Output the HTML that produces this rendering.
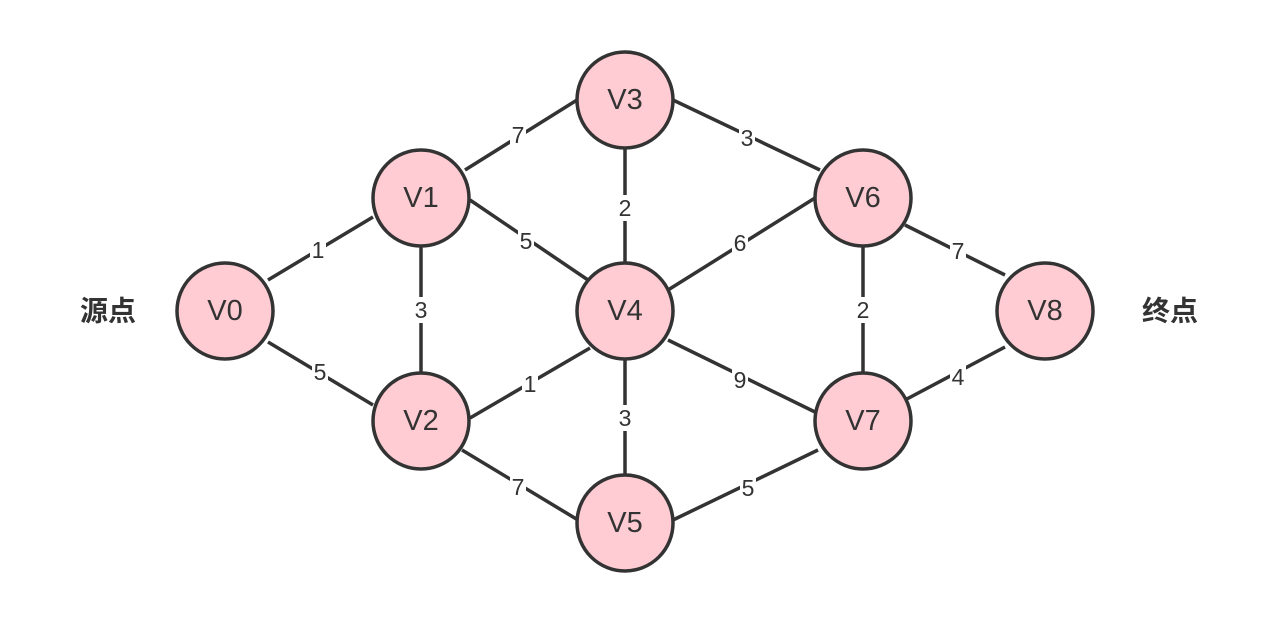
<!DOCTYPE html>
<html><head><meta charset="utf-8"><style>body{margin:0;background:#fff}svg{display:block}</style></head>
<body>
<svg width="1280" height="622" viewBox="0 0 1280 622" xmlns="http://www.w3.org/2000/svg" font-family="Liberation Sans, Noto Sans CJK SC, sans-serif">
<g stroke="#333" stroke-width="3.5">
<line x1="268" y1="280" x2="373" y2="217"/>
<line x1="268" y1="342" x2="373" y2="405"/>
<line x1="421" y1="198" x2="421" y2="421"/>
<line x1="465" y1="170" x2="577" y2="100"/>
<line x1="470" y1="200" x2="588" y2="280"/>
<line x1="470" y1="418" x2="590" y2="348"/>
<line x1="462" y1="450" x2="578" y2="520"/>
<line x1="625" y1="100" x2="625" y2="311"/>
<line x1="625" y1="311" x2="625" y2="523"/>
<line x1="673" y1="100" x2="820" y2="170"/>
<line x1="668" y1="290" x2="815" y2="198"/>
<line x1="668" y1="340" x2="815" y2="412"/>
<line x1="673" y1="520" x2="818" y2="450"/>
<line x1="863" y1="198" x2="863" y2="421"/>
<line x1="905" y1="225" x2="1005" y2="275"/>
<line x1="905" y1="400" x2="1005" y2="347"/>
</g>
<g font-size="23" fill="#333" text-anchor="middle" dominant-baseline="central">
<g fill="#fff">
<rect x="310" y="237" width="16" height="26"/><rect x="312" y="359" width="16" height="26"/>
<rect x="413" y="297" width="16" height="26"/><rect x="510" y="122" width="16" height="26"/>
<rect x="518" y="228" width="16" height="26"/><rect x="522" y="371" width="16" height="26"/>
<rect x="510" y="474" width="16" height="26"/><rect x="617" y="195" width="16" height="26"/>
<rect x="617" y="405" width="16" height="26"/><rect x="739" y="125" width="16" height="26"/>
<rect x="732" y="230" width="16" height="26"/><rect x="732" y="367" width="16" height="26"/>
<rect x="740" y="475" width="16" height="26"/><rect x="855" y="297" width="16" height="26"/>
<rect x="950" y="238" width="16" height="26"/><rect x="950" y="364" width="16" height="26"/>
</g>
<text x="318" y="250">1</text><text x="320" y="372">5</text>
<text x="421" y="310">3</text><text x="518" y="135">7</text>
<text x="526" y="241">5</text><text x="530" y="384">1</text>
<text x="518" y="487">7</text><text x="625" y="208">2</text>
<text x="625" y="418">3</text><text x="747" y="138">3</text>
<text x="740" y="243">6</text><text x="740" y="380">9</text>
<text x="748" y="488">5</text><text x="863" y="310">2</text>
<text x="958" y="251">7</text><text x="958" y="377">4</text>
</g>
<g fill="#ffccd3" stroke="#333" stroke-width="3.5">
<circle cx="225" cy="311" r="48"/><circle cx="421" cy="198" r="48"/>
<circle cx="421" cy="421" r="48"/><circle cx="625" cy="100" r="48"/>
<circle cx="625" cy="311" r="48"/><circle cx="625" cy="523" r="48"/>
<circle cx="863" cy="198" r="48"/><circle cx="863" cy="421" r="48"/>
<circle cx="1045" cy="311" r="48"/>
</g>
<g font-size="29" fill="#333" text-anchor="middle" dominant-baseline="central">
<text x="225" y="311">V0</text><text x="421" y="198">V1</text>
<text x="421" y="421">V2</text><text x="625" y="100">V3</text>
<text x="625" y="311">V4</text><text x="625" y="523">V5</text>
<text x="863" y="198">V6</text><text x="863" y="421">V7</text>
<text x="1045" y="311">V8</text>
</g>
<g font-size="28" font-weight="bold" fill="#333" text-anchor="middle" dominant-baseline="central">
<text x="108" y="311">源点</text><text x="1170" y="311">终点</text>
</g>
</svg>
</body></html>
